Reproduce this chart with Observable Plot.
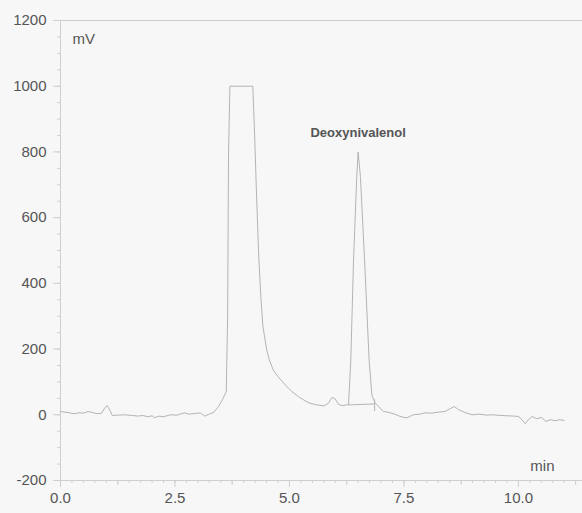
<!DOCTYPE html>
<html>
<head>
<meta charset="utf-8">
<script src="https://cdn.jsdelivr.net/npm/d3@7"></script>
<script src="https://cdn.jsdelivr.net/npm/@observablehq/plot@0.6"></script>
<style>
  html, body { margin: 0; padding: 0; background: #f7f7f7; }
  #chart svg { display: block; }
</style>
</head>
<body>
<div id="chart"></div>
<script>
// Chromatogram trace (retention time in min, signal in mV)
const times = [
  0.00, 0.10, 0.20, 0.30, 0.40, 0.50, 0.60, 0.70, 0.80, 0.90, 0.97, 1.02, 1.08, 1.13,
  1.25, 1.40, 1.55, 1.70, 1.80, 1.90, 2.00, 2.05, 2.15, 2.25, 2.40, 2.55, 2.70, 2.80,
  2.95, 3.05, 3.15, 3.25, 3.35, 3.45, 3.55, 3.62, 3.65, 3.67, 3.70, 4.20, 4.24, 4.28,
  4.33, 4.38, 4.42, 4.50, 4.56, 4.65, 4.75, 4.85, 4.95, 5.05, 5.20, 5.35, 5.45, 5.60,
  5.75, 5.85, 5.93, 6.00, 6.07, 6.15, 6.25, 6.29, 6.34, 6.40, 6.47, 6.50, 6.55, 6.64,
  6.74, 6.80, 6.87, 6.95, 7.05, 7.15, 7.30, 7.40, 7.50, 7.57, 7.70, 7.85, 7.96, 8.10,
  8.25, 8.40, 8.50, 8.60, 8.70, 8.85, 8.99, 9.15, 9.30, 9.45, 9.60, 9.75, 9.90, 10.00,
  10.08, 10.15, 10.22, 10.30, 10.40, 10.50, 10.60, 10.70, 10.80, 10.90, 11.00
];
const signal = [
  10, 8, 6, 3, 6, 5, 10, 7, 3, 5, 22, 28, 14, -2,
  -1, 0, -2, -4, -2, -6, -3, -9, -4, -6, 0, -1, 6, 2,
  4, 6, -4, 2, 8, 25, 50, 70, 300, 800, 1000, 1000, 850, 675,
  480, 350, 270, 200, 167, 135, 116, 100, 85, 71, 55, 42, 35, 30,
  27, 35, 53, 48, 32, 28, 30, 32, 167, 472, 725, 800, 725, 472,
  167, 60, 36, 25, 10, 8, 2, -4, -8, -9, 0, 2, 6, 5,
  8, 10, 18, 25, 15, 6, 0, 2, -1, 0, -2, -3, -4, -5,
  -15, -27, -15, -5, -12, -8, -20, -15, -18, -15, -17
];

// Integration baseline of the labelled peak
const baseTimes = [6.29, 6.86];
const baseValues = [30, 33];
const baseEndTick = [{t: 6.86, lo: 10, hi: 45}];

// Peak annotation
const peakName = "Deoxynivalenol";
const peakTime = 6.50;
const peakHeight = 800;

// Axis ticks
const xMajor = [0, 2.5, 5, 7.5, 10];
const xMid = [1.25, 3.75, 6.25, 8.75, 11.25];
const xMinor = d3.range(0, 11.3, 0.25);
const yMajor = [-200, 0, 200, 400, 600, 800, 1000, 1200];
const yMinor = d3.range(-200, 1201, 50);

const trace = times.map((t, i) => ({t, v: signal[i]}));
const baseline = baseTimes.map((t, i) => ({t, v: baseValues[i]}));

const axisColor = "#cfcfcf";
const textColor = "#555555";
const lineColor = "#b4b4b4";

const chart = Plot.plot({
  width: 582,
  height: 513,
  marginLeft: 60,
  marginRight: 0,
  marginTop: 20,
  marginBottom: 33,
  style: {background: "#f7f7f7", fontFamily: "'Liberation Sans', Arial, Helvetica, sans-serif", fontSize: "15px", color: textColor},
  x: {domain: [0, 11.4]},
  y: {domain: [-200, 1200]},
  marks: [
    Plot.ruleY([-200, 1200], {stroke: axisColor}),
    Plot.ruleX([0], {stroke: axisColor}),
    Plot.axisX({ticks: xMinor, tickSize: 3, text: null, stroke: axisColor, label: null}),
    Plot.axisX({ticks: xMid, tickSize: 5, text: null, stroke: axisColor, label: null}),
    Plot.axisX({ticks: xMajor, tickSize: 7, tickPadding: 5, tickFormat: d => d.toFixed(1), stroke: axisColor, fill: textColor, fontSize: 15, label: null}),
    Plot.axisY({ticks: yMinor, tickSize: 3, text: null, stroke: axisColor, label: null}),
    Plot.axisY({ticks: yMajor, tickSize: 7, tickPadding: 7, tickFormat: d => String(d), stroke: axisColor, fill: textColor, fontSize: 15, label: null}),
    Plot.line(trace, {x: "t", y: "v", stroke: lineColor, strokeWidth: 1}),
    Plot.line(baseline, {x: "t", y: "v", stroke: lineColor, strokeWidth: 1}),
    Plot.ruleX(baseEndTick, {x: "t", y1: "lo", y2: "hi", stroke: lineColor, strokeWidth: 1}),
    Plot.text([peakName], {x: peakTime, y: peakHeight, text: d => d, dy: -19, fontWeight: "bold", fontSize: 13, fill: "#555"}),
    Plot.text(["mV"], {frameAnchor: "top-left", text: d => d, dx: 12, dy: 13, fontSize: 15, fill: textColor}),
    Plot.text(["min"], {frameAnchor: "bottom-right", text: d => d, dx: -28, dy: -10, fontSize: 15, fill: textColor})
  ]
});
document.getElementById("chart").appendChild(chart);
</script>
</body>
</html>
